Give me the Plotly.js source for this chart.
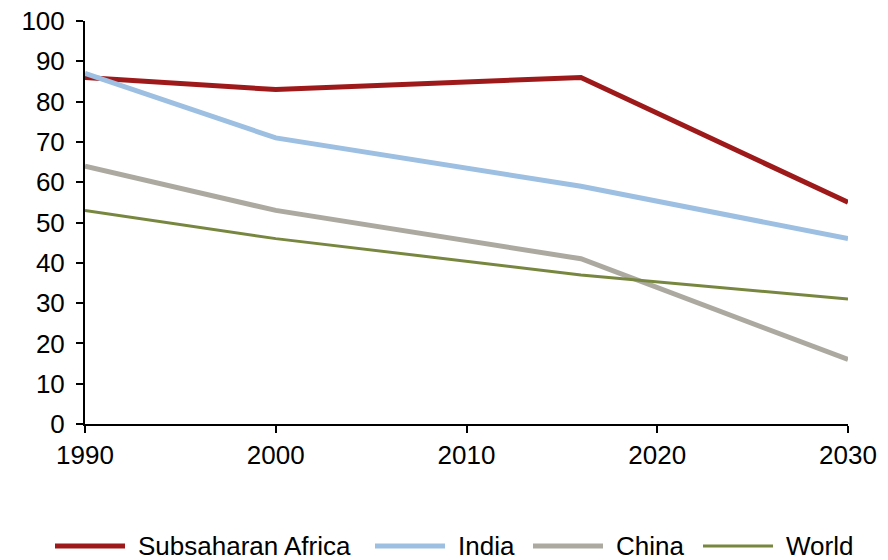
<!DOCTYPE html>
<html>
<head>
<meta charset="utf-8">
<script src="https://cdn.plot.ly/plotly-3.0.1.min.js"></script>
<style>html,body{margin:0;padding:0;background:#fff;}#chart{width:888px;height:560px;}</style>
</head>
<body>
<div id="chart"></div>
<script>
const years = [1990, 2000, 2016, 2030];
const subsaharanAfrica = [86, 83, 86, 55];
const india = [87, 71, 59, 46];
const china = [64, 53, 41, 16];
const world = [53, 46, 37, 31];
const seriesNames = ["Subsaharan Africa", "India", "China", "World"];
const xTicks = [1990, 2000, 2010, 2020, 2030];
const yTicks = [0, 10, 20, 30, 40, 50, 60, 70, 80, 90, 100];

const colors = ["#9E1A1A", "#9DBFE2", "#ABA9A0", "#77873F"];
const widths = [5, 5, 5, 3];
const values = [subsaharanAfrica, india, china, world];

const W = 888, H = 560;
const M = {l: 85, r: 40, t: 21, b: 136};
const pw = W - M.l - M.r, ph = H - M.t - M.b;
const px = x => (x - M.l) / pw;
const py = y => (H - M.b - y) / ph;

const traces = values.map((v, i) => ({
  x: years, y: v, name: seriesNames[i], type: "scatter", mode: "lines",
  line: {color: colors[i], width: widths[i]}, showlegend: false
}));

// custom legend (pixel layout)
const legLineX = [55, 375, 533, 703];
const legLineLen = 70;
const legTextGap = 12;
const legY = 546;
const shapes = [], annotations = [];
seriesNames.forEach((n, i) => {
  shapes.push({type: "line", xref: "paper", yref: "paper",
    x0: px(legLineX[i]), x1: px(legLineX[i] + legLineLen), y0: py(legY), y1: py(legY),
    line: {color: colors[i], width: widths[i]}});
  annotations.push({xref: "paper", yref: "paper", x: px(legLineX[i] + legLineLen + legTextGap - 1),
    y: py(legY), xanchor: "left", yanchor: "middle", text: n, showarrow: false,
    font: {size: 26, color: "#000"}});
});

const layout = {
  width: W, height: H,
  margin: M,
  paper_bgcolor: "#fff", plot_bgcolor: "#fff",
  font: {family: "Liberation Sans, Arial, sans-serif", size: 26, color: "#000"},
  showlegend: false,
  shapes: shapes, annotations: annotations,
  xaxis: {range: [1990, 2030], tickvals: xTicks, ticktext: xTicks.map(String),
    showgrid: false, zeroline: false, showline: true, linecolor: "#000", linewidth: 2,
    ticks: "outside", ticklen: 7, tickwidth: 2, tickcolor: "#000", fixedrange: true,
    tickfont: {size: 26}, automargin: false},
  yaxis: {range: [0, 100], tickvals: yTicks, showgrid: false, zeroline: false,
    showline: true, linecolor: "#000", linewidth: 2,
    ticks: "outside", ticklen: 7, tickwidth: 2, tickcolor: "#000", fixedrange: true,
    tickfont: {size: 26}, automargin: false, ticklabelstandoff: 6}
};

Plotly.newPlot("chart", traces, layout, {displayModeBar: false, staticPlot: true});
</script>
</body>
</html>
